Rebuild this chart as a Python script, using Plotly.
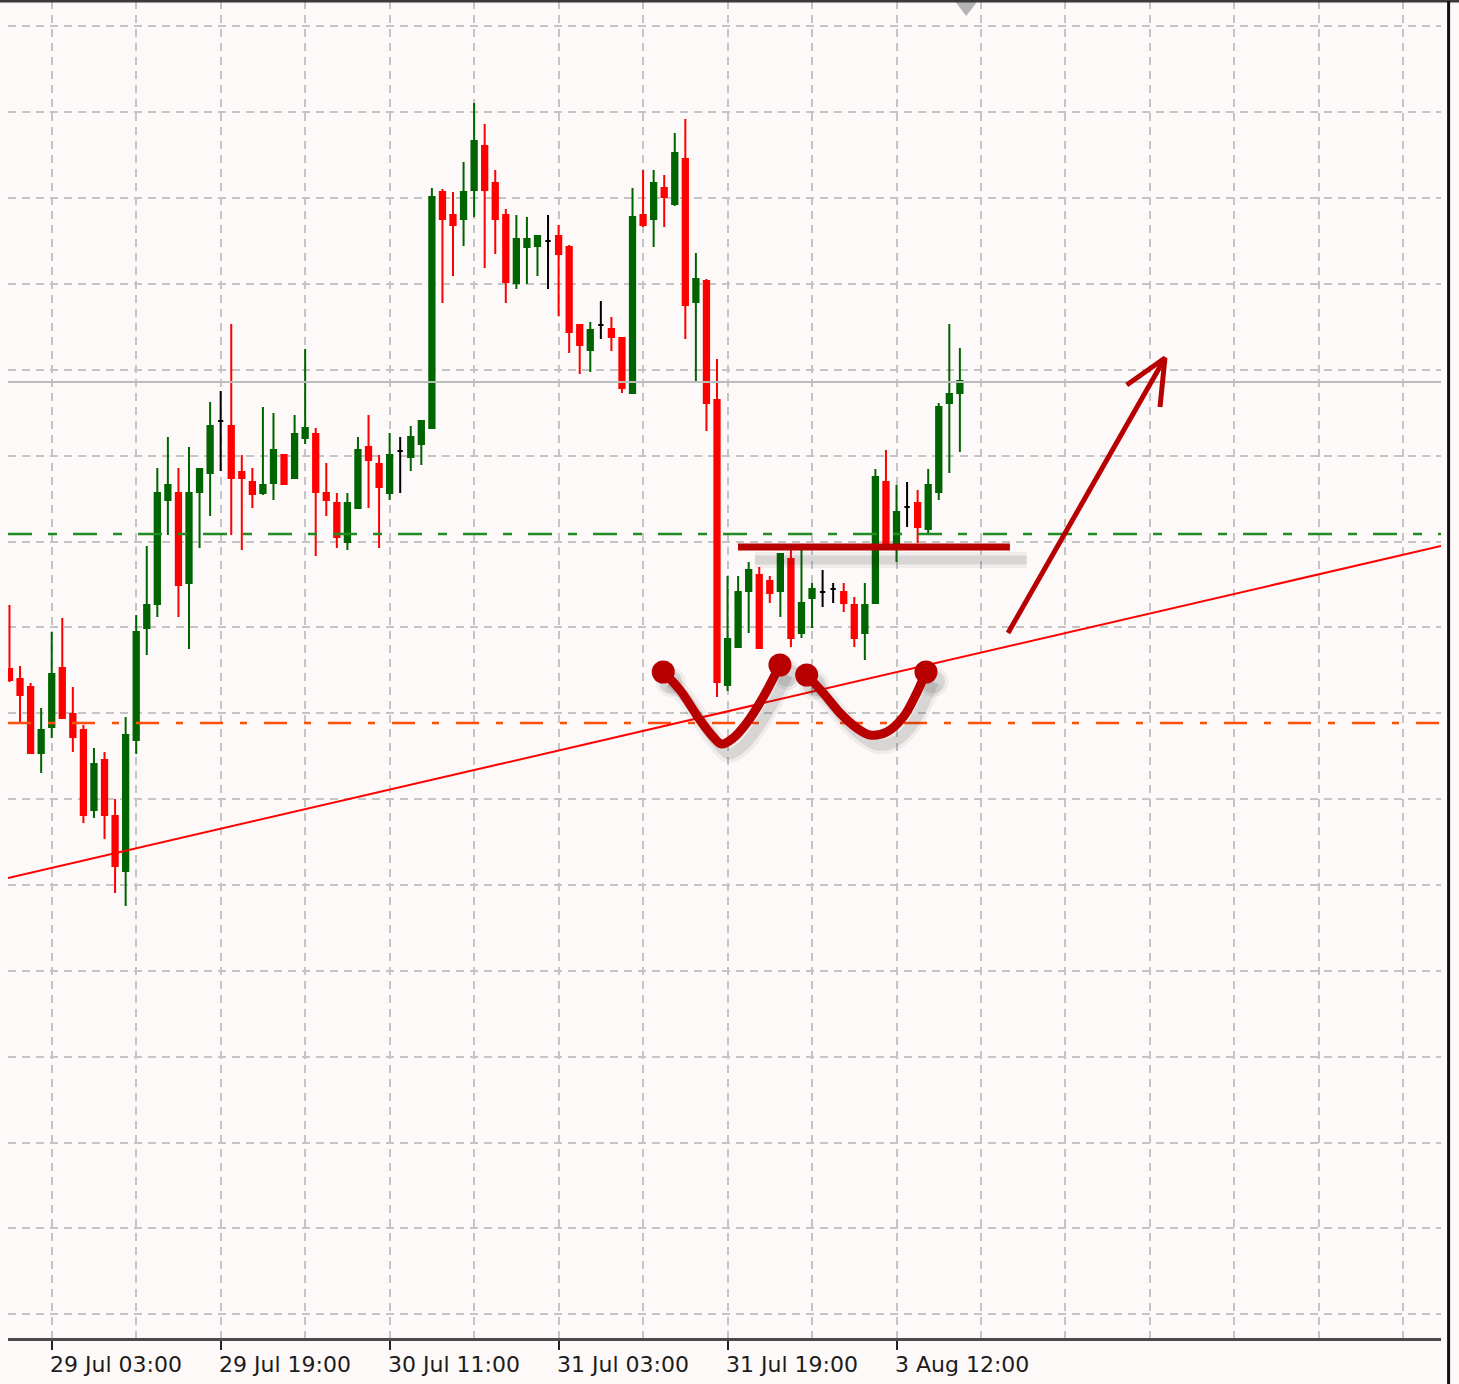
import plotly.graph_objects as go

# H1 candles, x = bar number (0 = first bar visible on the left)
bar_index = list(range(91))

opens = [1.18331, 1.18321, 1.18313, 1.18247, 1.18273, 1.18332, 1.18286, 1.18270, 1.18190, 1.18240,
         1.18184, 1.18129, 1.18260, 1.18372, 1.18396, 1.18500, 1.18507, 1.18417, 1.18508, 1.18527,
         1.18579, 1.18574, 1.18528, 1.18518, 1.18507, 1.18517, 1.18545, 1.18522, 1.18562, 1.18566,
         1.18507, 1.18497, 1.18458, 1.18492, 1.18553, 1.18536, 1.18507, 1.18549, 1.18543, 1.18556,
         1.18572, 1.18808, 1.18785, 1.18781, 1.18810, 1.18854, 1.18817, 1.18785, 1.18717, 1.18753,
         1.18754, 1.18759, 1.18764, 1.18753, 1.18675, 1.18650, 1.18675, 1.18671, 1.18662, 1.18607,
         1.18785, 1.18781, 1.18812, 1.18796, 1.18841, 1.18698, 1.18719, 1.18600, 1.18315, 1.18353,
         1.18409, 1.18425, 1.18419, 1.18409, 1.18441, 1.18367, 1.18402, 1.18408, 1.18411, 1.18408,
         1.18395, 1.18367, 1.18397, 1.18518, 1.18455, 1.18493, 1.18497, 1.18471, 1.18508, 1.18597,
         1.18607]
highs = [1.18395, 1.18334, 1.18317, 1.18292, 1.18368, 1.18382, 1.18313, 1.18275, 1.18252, 1.18248,
         1.18201, 1.18283, 1.18385, 1.18454, 1.18532, 1.18563, 1.18532, 1.18553, 1.18531, 1.18598,
         1.18609, 1.18676, 1.18545, 1.18532, 1.18593, 1.18587, 1.18545, 1.18585, 1.18651, 1.18572,
         1.18537, 1.18507, 1.18507, 1.18563, 1.18585, 1.18545, 1.18567, 1.18563, 1.18574, 1.18580,
         1.18812, 1.18811, 1.18808, 1.18838, 1.18897, 1.18876, 1.18830, 1.18791, 1.18785, 1.18783,
         1.18764, 1.18785, 1.18775, 1.18755, 1.18675, 1.18678, 1.18699, 1.18683, 1.18663, 1.18812,
         1.18830, 1.18830, 1.18825, 1.18867, 1.18881, 1.18747, 1.18721, 1.18641, 1.18424, 1.18424,
         1.18438, 1.18433, 1.18424, 1.18447, 1.18451, 1.18450, 1.18417, 1.18430, 1.18417, 1.18417,
         1.18403, 1.18417, 1.18531, 1.18550, 1.18515, 1.18518, 1.18510, 1.18531, 1.18597, 1.18676,
         1.18652]
lows = [1.18318, 1.18276, 1.18246, 1.18227, 1.18262, 1.18281, 1.18248, 1.18177, 1.18182, 1.18161,
        1.18107, 1.18094, 1.18246, 1.18345, 1.18383, 1.18465, 1.18383, 1.18351, 1.18452, 1.18484,
        1.18529, 1.18465, 1.18450, 1.18492, 1.18505, 1.18500, 1.18516, 1.18521, 1.18556, 1.18444,
        1.18484, 1.18452, 1.18450, 1.18491, 1.18492, 1.18452, 1.18500, 1.18507, 1.18529, 1.18535,
        1.18571, 1.18697, 1.18724, 1.18754, 1.18783, 1.18732, 1.18746, 1.18697, 1.18711, 1.18716,
        1.18724, 1.18711, 1.18684, 1.18647, 1.18626, 1.18628, 1.18661, 1.18649, 1.18607, 1.18607,
        1.18773, 1.18753, 1.18773, 1.18794, 1.18661, 1.18618, 1.18569, 1.18303, 1.18309, 1.18353,
        1.18367, 1.18351, 1.18397, 1.18383, 1.18353, 1.18362, 1.18372, 1.18393, 1.18397, 1.18388,
        1.18353, 1.18340, 1.18397, 1.18456, 1.18438, 1.18473, 1.18457, 1.18467, 1.18500, 1.18527,
        1.18548]
closes = [1.18320, 1.18305, 1.18247, 1.18270, 1.18326, 1.18282, 1.18263, 1.18185, 1.18236, 1.18185,
          1.18134, 1.18265, 1.18368, 1.18395, 1.18507, 1.18515, 1.18415, 1.18507, 1.18531, 1.18574,
          1.18579, 1.18522, 1.18522, 1.18506, 1.18515, 1.18550, 1.18516, 1.18566, 1.18572, 1.18508,
          1.18500, 1.18463, 1.18497, 1.18550, 1.18540, 1.18513, 1.18545, 1.18549, 1.18563, 1.18579,
          1.18803, 1.18781, 1.18775, 1.18808, 1.18859, 1.18810, 1.18781, 1.18718, 1.18761, 1.18761,
          1.18764, 1.18759, 1.18746, 1.18668, 1.18655, 1.18670, 1.18675, 1.18663, 1.18612, 1.18783,
          1.18775, 1.18817, 1.18803, 1.18847, 1.18695, 1.18721, 1.18597, 1.18318, 1.18361, 1.18408,
          1.18430, 1.18352, 1.18407, 1.18446, 1.18362, 1.18397, 1.18411, 1.18408, 1.18411, 1.18397,
          1.18362, 1.18395, 1.18523, 1.18457, 1.18488, 1.18493, 1.18473, 1.18515, 1.18593, 1.18606,
          1.18619]

tick_index = [4, 20, 36, 52, 68, 84]
tick_labels = ["29 Jul 03:00", "29 Jul 19:00", "30 Jul 11:00",
               "31 Jul 03:00", "31 Jul 19:00", "3 Aug 12:00"]

# horizontal levels
bid_level = 1.18618
green_level = 1.18466
orange_level = 1.18277

# rising trend line
trend_x = [-0.14, 135.56]
trend_y = [1.18122, 1.18454]

# hand drawn pattern: two bottoms, neckline and the arrow
bottom1_x = [61.91, 63.49, 65.39, 66.65, 67.44, 68.54, 69.81, 71.38, 72.96]
bottom1_y = [1.18328, 1.18310, 1.18280, 1.18263, 1.18256, 1.18262, 1.18277, 1.18303, 1.18335]
bottom2_x = [75.49, 77.06, 78.65, 80.23, 81.49, 83.07, 84.64, 85.91, 86.79]
bottom2_y = [1.18325, 1.18307, 1.18287, 1.18272, 1.18265, 1.18268, 1.18283, 1.18307, 1.18328]
neck_x = [68.99, 94.74]
neck_y = [1.18453, 1.18453]
arrow_x = [94.56, 109.42, None, 105.80, 109.42, 108.95]
arrow_y = [1.18367, 1.18642, None, 1.18615, 1.18642, 1.18593]

shift_marker_x = [90.6]
shift_marker_y = [1.18995]

# --------------------------------------------------------------------------

GREEN = "#006400"
RED = "#ff0000"
PEN = "#b80000"
BG = "#fcf9f8"
GRID = "#c4c4c4"

x_range = [-0.14, 135.56]
y_range = [1.17662, 1.18999]

doji = [i for i in bar_index if opens[i] == closes[i]]
body = [i for i in bar_index if opens[i] != closes[i]]


def pick(values, idx):
    return [values[i] for i in idx]


def flat_line(level, color, width, dash="solid"):
    return go.Scatter(
        x=x_range, y=[level, level], mode="lines",
        line=dict(color=color, width=width, dash=dash), hoverinfo="skip"
    )


fig = go.Figure()

# level lines (under the candles)
fig.add_trace(flat_line(bid_level, "#bcbcbc", 2))
fig.add_trace(flat_line(green_level, "#228b22", 2.5, "24px,16px,9px,16px"))
fig.add_trace(flat_line(orange_level, "#ff4f10", 2.5, "23px,17px,7px,17px"))

fig.add_trace(go.Scatter(
    x=trend_x, y=trend_y, mode="lines",
    line=dict(color=RED, width=2), hoverinfo="skip"
))

fig.add_trace(go.Candlestick(
    x=body,
    open=pick(opens, body), high=pick(highs, body),
    low=pick(lows, body), close=pick(closes, body),
    increasing=dict(line=dict(color=GREEN, width=2), fillcolor=GREEN),
    decreasing=dict(line=dict(color=RED, width=2), fillcolor=RED),
    whiskerwidth=0, hoverinfo="skip"
))

fig.add_trace(go.Candlestick(
    x=doji,
    open=pick(opens, doji), high=pick(highs, doji),
    low=pick(lows, doji), close=pick(closes, doji),
    increasing=dict(line=dict(color="black", width=2), fillcolor="black"),
    decreasing=dict(line=dict(color="black", width=2), fillcolor="black"),
    whiskerwidth=0, hoverinfo="skip"
))

# soft shadows under the drawn marks
sdx, sdy = 0.7, -0.0001
for w, a in [(18, 0.06), (11, 0.11)]:
    shade = "rgba(40,40,40,%s)" % a
    for xs, ys in [(bottom1_x, bottom1_y), (bottom2_x, bottom2_y)]:
        fig.add_trace(go.Scatter(
            x=[v + sdx for v in xs], y=[v + sdy for v in ys],
            mode="lines", line=dict(color=shade, width=w, shape="spline"),
            hoverinfo="skip"
        ))
        fig.add_trace(go.Scatter(
            x=[xs[0] + sdx, xs[-1] + sdx], y=[ys[0] + sdy, ys[-1] + sdy],
            mode="markers", marker=dict(color=shade, size=w + 12),
            hoverinfo="skip"
        ))
    fig.add_trace(go.Scatter(
        x=[v + 1.6 for v in neck_x], y=[v - 0.00013 for v in neck_y],
        mode="lines", line=dict(color=shade, width=w - 2), hoverinfo="skip"
    ))

for xs, ys in [(bottom1_x, bottom1_y), (bottom2_x, bottom2_y)]:
    fig.add_trace(go.Scatter(
        x=xs, y=ys, mode="lines",
        line=dict(color=PEN, width=9, shape="spline"), hoverinfo="skip"
    ))
    fig.add_trace(go.Scatter(
        x=[xs[0], xs[-1]], y=[ys[0], ys[-1]], mode="markers",
        marker=dict(color=PEN, size=23), hoverinfo="skip"
    ))

fig.add_trace(go.Scatter(
    x=neck_x, y=neck_y, mode="lines",
    line=dict(color=PEN, width=7), hoverinfo="skip"
))
fig.add_trace(go.Scatter(
    x=arrow_x, y=arrow_y, mode="lines",
    line=dict(color=PEN, width=5), hoverinfo="skip"
))

fig.add_trace(go.Scatter(
    x=shift_marker_x, y=shift_marker_y, mode="markers",
    marker=dict(symbol="triangle-down", color="#b4b4b4", size=22),
    hoverinfo="skip"
))

# time labels, left aligned on their tick like the terminal does
for xi, txt in zip(tick_index, tick_labels):
    fig.add_annotation(
        x=xi, y=-0.0195, xref="x", yref="paper", text=txt, showarrow=False,
        xanchor="left", yanchor="middle", xshift=-4,
        font=dict(family="DejaVu Sans, sans-serif", size=22, color="#1c1c1c")
    )

# frame
fig.add_shape(type="line", xref="paper", yref="paper", x0=-0.01, x1=1.02, y0=1, y1=1,
              line=dict(color="#3a3a3a", width=3))
fig.add_shape(type="line", xref="paper", yref="paper", x0=1.0053, x1=1.0053, y0=-0.04, y1=1,
              line=dict(color="#111111", width=3))

grid_style = dict(showgrid=True, gridcolor=GRID, gridwidth=2, griddash="8px,6px")

fig.update_layout(
    width=1459, height=1384,
    margin=dict(l=8, r=18, t=1, b=46),
    paper_bgcolor=BG, plot_bgcolor=BG,
    showlegend=False, hovermode=False,
    boxgap=0.5, boxgroupgap=0,
    xaxis=dict(
        range=x_range, tickmode="array", tickvals=tick_index,
        showticklabels=False, ticks="outside", ticklen=9, tickwidth=2,
        tickcolor="#222222", showline=True, linecolor="#4a4a4a", linewidth=3,
        zeroline=False, rangeslider=dict(visible=False),
        minor=dict(tickmode="linear", tick0=4, dtick=8, ticks="",
                   showgrid=True, gridcolor=GRID, gridwidth=2, griddash="8px,6px"),
        **grid_style
    ),
    yaxis=dict(
        range=y_range, tickmode="linear", tick0=1.188877, dtick=0.0008585,
        showticklabels=False, ticks="", zeroline=False, showline=False,
        **grid_style
    ),
)

# page body has a default 8px margin; drop it so the figure sits at the corner
fig.write_html("out.html", config={"displayModeBar": False},
               post_script="document.body.style.margin = '0px';")
